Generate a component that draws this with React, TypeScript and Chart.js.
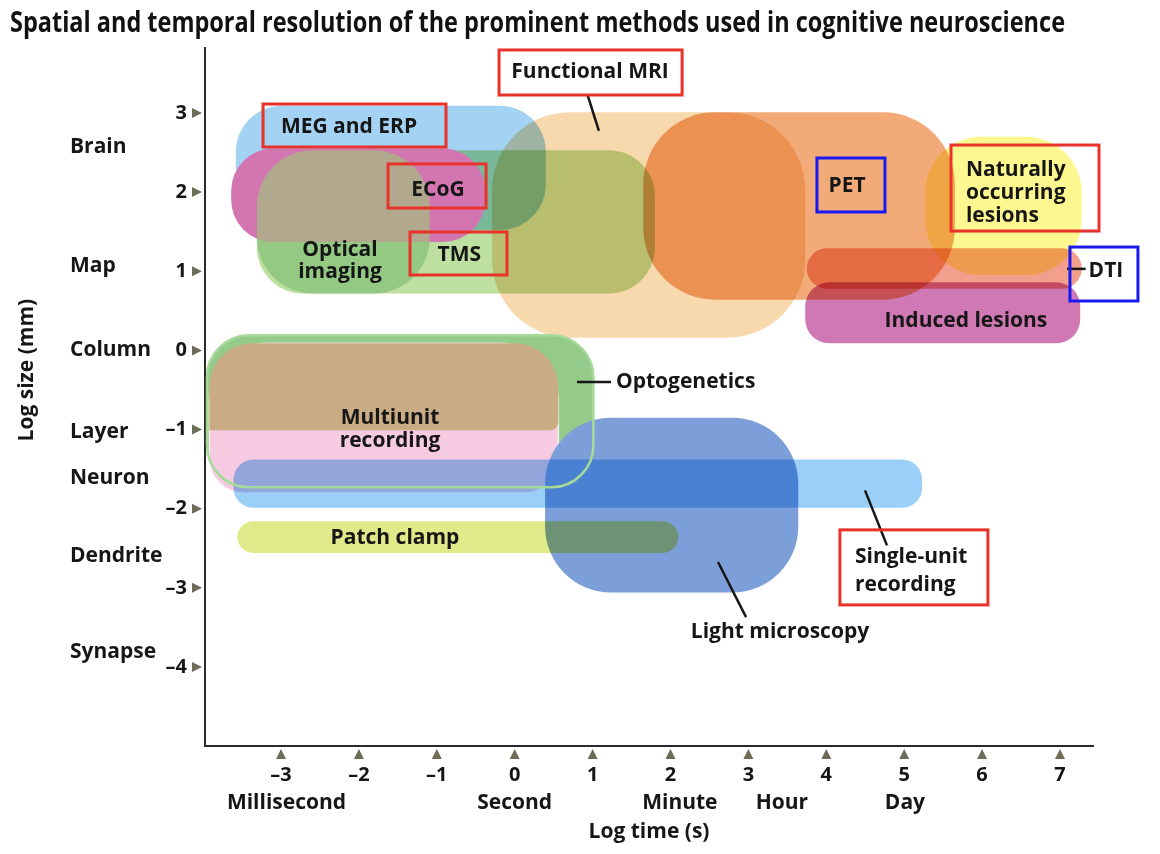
import React, { useEffect, useRef } from 'react';
import { Chart, registerables } from 'chart.js';

Chart.register(...registerables);

const chartTitle = 'Spatial and temporal resolution of the prominent methods used in cognitive neuroscience';
const xAxisTitle = 'Log time (s)';
const yAxisTitle = 'Log size (mm)';

// Methods (draw order) and their ranges: log time (s) and log size (mm)
const methods = [
  'Functional MRI',
  'PET',
  'MEG and ERP',
  'TMS',
  'Optical imaging',
  'ECoG',
  'Naturally occurring lesions',
  'Induced lesions',
  'DTI',
  'Optogenetics',
  'Multiunit recording',
  'Multiunit recording (upper)',
  'Light microscopy',
  'Single-unit recording',
  'Patch clamp',
];
const timeFrom = [-0.29, 1.65, -3.58, -3.31, -3.31, -3.64, 5.27, 3.73, 3.75, -3.95, -3.92, -3.92, 0.39, -3.61, -3.56];
const timeTo = [3.73, 5.65, 0.40, 1.80, -1.09, -0.38, 7.28, 7.26, 7.28, 1.01, 0.56, 0.56, 3.64, 5.23, 2.10];
const sizeFrom = [0.16, 0.64, 1.52, 0.72, 0.72, 1.37, 0.95, 0.09, 0.78, -1.73, -1.80, -1.01, -3.06, -1.99, -2.56];
const sizeTo = [3.01, 3.01, 3.09, 2.53, 2.53, 2.55, 2.70, 0.86, 1.29, 0.19, 0.09, 0.09, -0.85, -1.38, -2.16];

const xTickValues = [-3, -2, -1, 0, 1, 2, 3, 4, 5, 6, 7];
const yTickValues = [-4, -3, -2, -1, 0, 1, 2, 3];

const sizeCategories = ['Brain', 'Map', 'Column', 'Layer', 'Neuron', 'Dendrite', 'Synapse'];
const sizeCategoryAt = [2.57, 1.06, 0.0, -1.03, -1.61, -2.6, -3.81];

const timeUnits = ['Millisecond', 'Second', 'Minute', 'Hour', 'Day'];
const timeUnitAt = [-2.93, 0.0, 2.12, 3.43, 5.01];

// ---- styles (kept apart from the data) ----
type RegionStyle = {
  color: string;
  blend?: GlobalCompositeOperation;
  alpha?: number;
  radius: number | number[];
};

const regionStyles: Record<string, RegionStyle> = {
  'Functional MRI': { color: '#f8d9ad', radius: 78 },
  'PET': { color: '#f2aa78', blend: 'multiply', radius: 72 },
  'MEG and ERP': { color: '#a3d2f2', blend: 'multiply', radius: 46 },
  'TMS': { color: '#bde0a0', blend: 'multiply', radius: 46 },
  'Optical imaging': { color: '#93c982', radius: 56 },
  'ECoG': { color: '#d375b1', radius: 42 },
  'Naturally occurring lesions': { color: '#fcf78e', blend: 'multiply', radius: 56 },
  'Induced lesions': { color: '#cf78b4', blend: 'multiply', radius: 24 },
  'DTI': { color: '#eb6e50', blend: 'multiply', alpha: 0.65, radius: 20 },
  'Optogenetics': { color: '#95cb8a', radius: 42 },
  'Multiunit recording': { color: '#f6cbe2', radius: [58, 58, 34, 34] },
  'Multiunit recording (upper)': { color: '#c9ab85', radius: [58, 58, 8, 0] },
  'Light microscopy': { color: '#7c9fd9', radius: 66 },
  'Single-unit recording': { color: '#84c4f5', blend: 'multiply', alpha: 0.82, radius: 20 },
  'Patch clamp': { color: '#dde87e', blend: 'multiply', alpha: 0.9, radius: 16 },
};
const overlapTan = '#b2a88e';
const optoOutline = '#a6da9a';

const RED = '#e8322a';
const BLUE = '#1a1af0';
const INK = '#161616';
const LABEL_FONT = 'bold 21px "Open Sans", sans-serif';

type Annotation = {
  lines: string[];
  x: number;
  y: number;
  align: CanvasTextAlign;
  gap?: number;
  box?: [number, number, number, number];
  boxColor?: string;
};

const annotations: Annotation[] = [
  { lines: ['Functional MRI'], x: 0.967, y: 3.519, align: 'center', box: [-0.201, 3.796, 2.149, 3.227], boxColor: RED },
  { lines: ['MEG and ERP'], x: -2.127, y: 2.817, align: 'center', box: [-3.231, 3.113, -0.882, 2.57], boxColor: RED },
  { lines: ['ECoG'], x: -0.985, y: 2.027, align: 'center', box: [-1.626, 2.356, -0.368, 1.799], boxColor: RED },
  { lines: ['TMS'], x: -0.712, y: 1.208, align: 'center', box: [-1.344, 1.496, -0.099, 0.953], boxColor: RED },
  { lines: ['Optical', 'imaging'], x: -2.243, y: 1.13, align: 'center', gap: 22 },
  { lines: ['PET'], x: 4.268, y: 2.077, align: 'center', box: [3.88, 2.431, 4.753, 1.749], boxColor: BLUE },
  { lines: ['Naturally', 'occurring', 'lesions'], x: 5.793, y: 1.989, align: 'left', gap: 23, box: [5.601, 2.595, 7.501, 1.508], boxColor: RED },
  { lines: ['DTI'], x: 7.59, y: 1.0, align: 'center', box: [7.128, 1.306, 8.001, 0.624], boxColor: BLUE },
  { lines: ['Induced lesions'], x: 5.793, y: 0.371, align: 'center' },
  { lines: ['Optogenetics'], x: 1.3, y: -0.399, align: 'left' },
  { lines: ['Multiunit', 'recording'], x: -1.601, y: -0.999, align: 'center', gap: 23 },
  { lines: ['Patch clamp'], x: -1.537, y: -2.37, align: 'center' },
  { lines: ['Single-unit', 'recording'], x: 4.368, y: -2.787, align: 'left', gap: 28, box: [4.175, -2.268, 6.075, -3.216], boxColor: RED },
  { lines: ['Light microscopy'], x: 3.405, y: -3.558, align: 'center' },
];

const leaders: [number, number, number, number][] = [
  [0.939, 3.215, 1.081, 2.773],
  [7.09, 1.03, 7.33, 1.03],
  [0.8, -0.399, 1.236, -0.399],
  [4.497, -1.769, 4.779, -2.464],
  [2.61, -2.674, 2.97, -3.37],
];

function regionPath(ctx: CanvasRenderingContext2D, chart: any, i: number, radius: number | number[]) {
  const { x, y } = chart.scales;
  const l = x.getPixelForValue(timeFrom[i]);
  const r = x.getPixelForValue(timeTo[i]);
  const t = y.getPixelForValue(sizeTo[i]);
  const b = y.getPixelForValue(sizeFrom[i]);
  const w = r - l;
  const h = b - t;
  const lim = Math.min(w / 2, h / 2);
  const rad = Array.isArray(radius) ? radius.map((v) => Math.min(v, lim)) : Math.min(radius, lim);
  ctx.beginPath();
  (ctx as any).roundRect(l, t, w, h, rad);
}

const regionsPlugin = {
  id: 'methodRegions',
  beforeDatasetsDraw(chart: any) {
    const ctx: CanvasRenderingContext2D = chart.ctx;
    const idx = (name: string) => methods.indexOf(name);
    methods.forEach((name, i) => {
      const st = regionStyles[name];
      ctx.save();
      ctx.globalCompositeOperation = st.blend || 'source-over';
      ctx.globalAlpha = st.alpha ?? 1;
      ctx.fillStyle = st.color;
      regionPath(ctx, chart, i, st.radius);
      ctx.fill();
      ctx.restore();
      if (name === 'ECoG') {
        // overlap of optical imaging and ECoG
        ctx.save();
        regionPath(ctx, chart, i, st.radius);
        ctx.clip();
        ctx.fillStyle = overlapTan;
        const oi = idx('Optical imaging');
        regionPath(ctx, chart, oi, regionStyles['Optical imaging'].radius);
        ctx.fill();
        ctx.restore();
      }
      if (name === 'Multiunit recording') {
        ctx.save();
        ctx.strokeStyle = 'rgba(255,255,255,0.7)';
        ctx.lineWidth = 1.5;
        regionPath(ctx, chart, i, st.radius);
        ctx.stroke();
        ctx.restore();
      }
    });
    // optogenetics outline on top
    const oi = idx('Optogenetics');
    ctx.save();
    ctx.strokeStyle = optoOutline;
    ctx.lineWidth = 2.5;
    regionPath(ctx, chart, oi, regionStyles['Optogenetics'].radius);
    ctx.stroke();
    ctx.restore();
  },
  afterDraw(chart: any) {
    const ctx: CanvasRenderingContext2D = chart.ctx;
    const { x, y } = chart.scales;
    const area = chart.chartArea;

    // tick triangles
    ctx.save();
    ctx.fillStyle = '#6c6c58';
    yTickValues.forEach((v) => {
      const py = y.getPixelForValue(v);
      ctx.beginPath();
      ctx.moveTo(area.left - 13, py - 5);
      ctx.lineTo(area.left - 13, py + 5);
      ctx.lineTo(area.left - 3, py);
      ctx.closePath();
      ctx.fill();
    });
    xTickValues.forEach((v) => {
      const px = x.getPixelForValue(v);
      ctx.beginPath();
      ctx.moveTo(px - 5, area.bottom + 13);
      ctx.lineTo(px + 5, area.bottom + 13);
      ctx.lineTo(px, area.bottom + 3);
      ctx.closePath();
      ctx.fill();
    });
    ctx.restore();

    // leader lines
    ctx.save();
    ctx.strokeStyle = INK;
    ctx.lineWidth = 2.5;
    leaders.forEach(([x0, y0, x1, y1]) => {
      ctx.beginPath();
      ctx.moveTo(x.getPixelForValue(x0), y.getPixelForValue(y0));
      ctx.lineTo(x.getPixelForValue(x1), y.getPixelForValue(y1));
      ctx.stroke();
    });
    ctx.restore();

    // annotation texts and boxes
    ctx.save();
    ctx.font = LABEL_FONT;
    ctx.fillStyle = INK;
    ctx.textBaseline = 'middle';
    annotations.forEach((a) => {
      const px = x.getPixelForValue(a.x);
      const py = y.getPixelForValue(a.y);
      const gap = a.gap ?? 22;
      ctx.textAlign = a.align;
      a.lines.forEach((ln, k) => {
        const off = (k - (a.lines.length - 1) / 2) * gap;
        ctx.fillText(ln, px, py + off);
      });
      if (a.box) {
        const [bx0, by0, bx1, by1] = a.box;
        const l = x.getPixelForValue(bx0);
        const r = x.getPixelForValue(bx1);
        const t = y.getPixelForValue(by0);
        const b = y.getPixelForValue(by1);
        ctx.strokeStyle = a.boxColor || RED;
        ctx.lineWidth = 3;
        ctx.strokeRect(l, t, r - l, b - t);
      }
    });
    ctx.restore();

    // size categories on the left
    ctx.save();
    ctx.font = LABEL_FONT;
    ctx.fillStyle = INK;
    ctx.textAlign = 'left';
    ctx.textBaseline = 'middle';
    sizeCategories.forEach((c, i) => {
      ctx.fillText(c, 70, y.getPixelForValue(sizeCategoryAt[i]));
    });
    // time units under the axis
    ctx.textAlign = 'center';
    timeUnits.forEach((u, i) => {
      ctx.fillText(u, x.getPixelForValue(timeUnitAt[i]), area.bottom + 57);
    });
    ctx.restore();

    // y-axis title (rotated)
    ctx.save();
    ctx.font = LABEL_FONT;
    ctx.fillStyle = INK;
    ctx.textAlign = 'center';
    ctx.textBaseline = 'middle';
    ctx.translate(27, y.getPixelForValue(-0.25));
    ctx.rotate(-Math.PI / 2);
    ctx.fillText(yAxisTitle, 0, 0);
    ctx.restore();

    // main title (condensed)
    ctx.save();
    ctx.font = 'bold 28px "Open Sans", sans-serif';
    ctx.fillStyle = '#111';
    ctx.textAlign = 'left';
    ctx.textBaseline = 'alphabetic';
    const w = ctx.measureText(chartTitle).width;
    ctx.translate(10, 32);
    ctx.scale(1055 / w, 1);
    ctx.fillText(chartTitle, 0, 0);
    ctx.restore();
  },
};

const fmtTick = (v: number) => (v < 0 ? '\u2013' + Math.abs(v) : String(v));

export default function App() {
  const canvasRef = useRef<HTMLCanvasElement | null>(null);

  useEffect(() => {
    if (!canvasRef.current) return;
    Chart.defaults.font.family = '"Open Sans", sans-serif';
    const chart = new Chart(canvasRef.current, {
      type: 'scatter',
      data: { datasets: [{ label: 'methods', data: [], pointRadius: 0 }] },
      options: {
        animation: false,
        responsive: true,
        maintainAspectRatio: false,
        layout: { padding: { left: 0, right: 67, top: 48, bottom: 0 } },
        plugins: { legend: { display: false }, tooltip: { enabled: false }, title: { display: false } },
        scales: {
          x: {
            type: 'linear',
            position: 'bottom',
            min: -3.976,
            max: 7.424,
            afterBuildTicks: (scale: any) => {
              scale.ticks = xTickValues.map((v) => ({ value: v }));
            },
            afterFit: (scale: any) => {
              scale.height = 108;
            },
            grid: { display: false, drawTicks: false },
            border: { display: true, color: '#2a2a2a', width: 2 },
            ticks: {
              padding: 17,
              color: INK,
              font: { size: 20, weight: 'bold' },
              callback: (v: any) => fmtTick(Number(v)),
            },
            title: {
              display: true,
              text: xAxisTitle,
              color: INK,
              font: { size: 21, weight: 'bold' },
              padding: { top: 0, bottom: 9 },
            },
          },
          y: {
            type: 'linear',
            position: 'left',
            min: -4.999,
            max: 3.821,
            afterBuildTicks: (scale: any) => {
              scale.ticks = yTickValues.map((v) => ({ value: v }));
            },
            afterFit: (scale: any) => {
              scale.width = 205;
            },
            grid: { display: false, drawTicks: false },
            border: { display: true, color: '#2a2a2a', width: 2 },
            ticks: {
              padding: 18,
              color: INK,
              font: { size: 20, weight: 'bold' },
              callback: (v: any) => fmtTick(Number(v)),
            },
          },
        },
      },
      plugins: [regionsPlugin],
    } as any);
    return () => chart.destroy();
  }, []);

  return (
    <div style={{ position: 'absolute', left: 0, top: 0, width: 1160, height: 854, background: '#fff' }}>
      <canvas ref={canvasRef} />
    </div>
  );
}
